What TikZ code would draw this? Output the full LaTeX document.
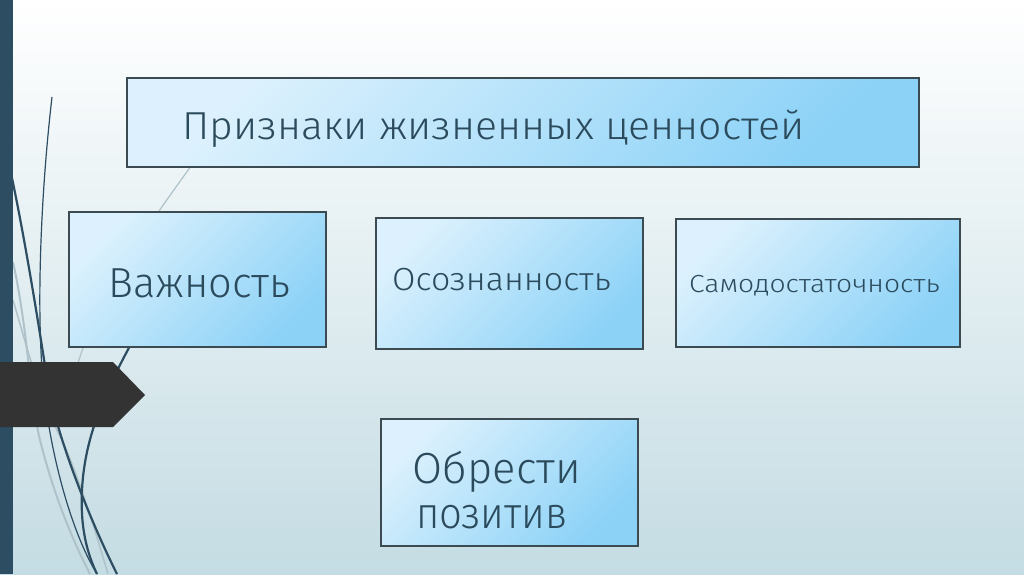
\documentclass[tikz,border=0pt]{standalone}
\usepackage{fontspec}
\setmainfont{Fira Sans Light}
\definecolor{bgbot}{HTML}{C4DCE3}
\definecolor{strip}{HTML}{2D4D62}
\definecolor{lightline}{HTML}{AFC2C9}
\definecolor{arrowc}{HTML}{333333}
\definecolor{boxlight}{HTML}{DCF1FD}
\definecolor{boxdark}{HTML}{8CD2F7}
\definecolor{boxline}{HTML}{3C4A52}
\definecolor{txt}{HTML}{2B4A5C}
\begin{document}
\begin{tikzpicture}[x=1pt,y=-1pt,
  box/.style={draw=boxline, line width=1.4pt, top color=boxlight, bottom color=boxdark, shading angle=45, inner sep=0pt},
  lbl/.style={text=txt, inner sep=0pt},
  decodark/.style={draw=strip, line width=2.2pt},
  decothin/.style={draw=strip, line width=1.2pt},
  decolight/.style={draw=lightline, line width=2pt}]
% background
\shade[top color=white, bottom color=bgbot] (0,0) rectangle (1024,574);
\useasboundingbox (0,0) rectangle (1024,574);
% decorative curves
\draw[decolight, line width=1.2pt] (197,158) .. controls (150,222) and (95,300) .. (76,370);
\draw[decolight] (13,262) .. controls (28,330) and (30,400) .. (40,440) .. controls (55,500) and (75,545) .. (90,574);
\draw[decolight, line width=1.5pt] (13,300) .. controls (25,340) and (40,400) .. (62,440) .. controls (80,480) and (95,530) .. (108,574);
\draw[decothin] (52,97) .. controls (40,200) and (36,320) .. (44,390) .. controls (50,450) and (70,530) .. (97,574);
\draw[decodark] (12,178) .. controls (25,240) and (38,320) .. (48,385) .. controls (58,440) and (90,520) .. (117,574);
\draw[decodark] (150,310) .. controls (110,380) and (85,430) .. (82,490) .. controls (80,530) and (88,555) .. (97,574);
% left strip and arrow
\fill[strip] (0,0) rectangle (13,574);
\fill[arrowc] (0,362) -- (113,362) -- (145,395) -- (113,427) -- (0,427) -- cycle;
% boxes
\node[box, minimum width=792pt, minimum height=89pt] (b1) at (523,122.5) {};
\node[box, minimum width=257pt, minimum height=135pt] (b2) at (197.5,279.5) {};
\node[box, minimum width=267pt, minimum height=131pt] (b3) at (509.5,283.5) {};
\node[box, minimum width=284pt, minimum height=128pt] (b4) at (818,283) {};
\node[box, minimum width=257pt, minimum height=127pt] (b5) at (509.5,482.5) {};
% labels
\node[lbl, anchor=base west, font=\fontsize{39}{44}\selectfont] (t1) at (182,139) {\scalebox{1.05}[1]{Признаки жизненных ценностей}};
\node[lbl, anchor=base west, font=\fontsize{42}{48}\selectfont] (t2) at (108,297) {\scalebox{0.99}[1]{Важность}};
\node[lbl, anchor=base west, font=\fontsize{32}{38}\selectfont] (t3) at (392,290) {\scalebox{1.06}[1]{Осознанность}};
\node[lbl, anchor=base west, font=\fontsize{24.7}{30}\selectfont] (t4) at (689,292) {\scalebox{1.143}[1]{Самодостаточность}};
\node[lbl, anchor=base, font=\fontsize{43.5}{48}\selectfont] (t5a) at (497,483) {Обрести};
\node[lbl, anchor=base, font=\fontsize{43.5}{48}\selectfont] (t5b) at (492,528) {\scalebox{0.92}[1]{позитив}};
\end{tikzpicture}
\end{document}
